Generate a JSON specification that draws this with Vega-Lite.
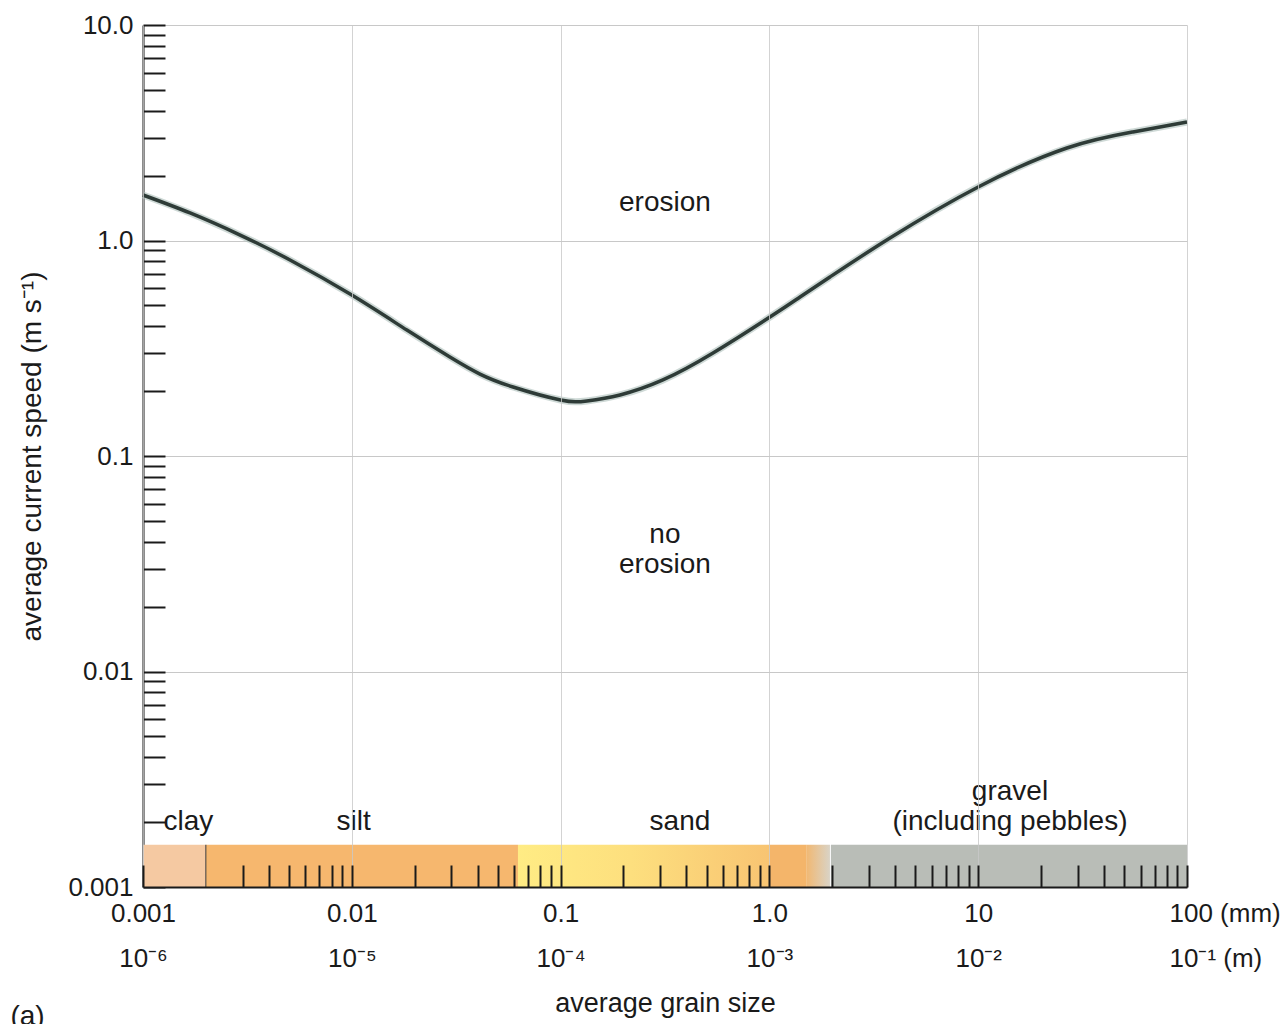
{
  "$schema": "https://vega.github.io/schema/vega-lite/v6.json",
  "width": 1044,
  "height": 862,
  "autosize": "none",
  "padding": {"left": 143, "top": 25, "right": 100, "bottom": 137},
  "background": "white",
  "config": {
    "view": {"stroke": null},
    "font": "Liberation Sans, Arial, sans-serif"
  },
  "datasets": {
    "curve": [
      {"x": 0.001, "y": 1.626},
      {"x": 0.00168, "y": 1.342},
      {"x": 0.00292, "y": 1.06},
      {"x": 0.00506, "y": 0.812},
      {"x": 0.01, "y": 0.558},
      {"x": 0.01836, "y": 0.384},
      {"x": 0.0295, "y": 0.288},
      {"x": 0.0411, "y": 0.24},
      {"x": 0.0592, "y": 0.209},
      {"x": 0.1, "y": 0.182},
      {"x": 0.1336, "y": 0.18},
      {"x": 0.1926, "y": 0.192},
      {"x": 0.309, "y": 0.2254},
      {"x": 0.537, "y": 0.3006},
      {"x": 1.04, "y": 0.451},
      {"x": 1.402, "y": 0.547},
      {"x": 1.95, "y": 0.677},
      {"x": 3.78, "y": 1.027},
      {"x": 10.0, "y": 1.772},
      {"x": 26.6, "y": 2.687},
      {"x": 55.1, "y": 3.19},
      {"x": 100, "y": 3.548}
    ],
    "bands": [
      {"class": "clay", "x": 0.001, "x2": 0.002, "y": 0.001, "y2": 0.00157},
      {"class": "silt", "x": 0.002, "x2": 0.0625, "y": 0.001, "y2": 0.00157},
      {"class": "coarse sand", "x": 1.0, "x2": 1.5, "y": 0.001, "y2": 0.00157},
      {"class": "gravel", "x": 1.97, "x2": 100, "y": 0.001, "y2": 0.00157}
    ],
    "sand": [{"class": "sand", "x": 0.0625, "x2": 1.0, "y": 0.001, "y2": 0.00157}],
    "transition": [{"class": "granules", "x": 1.5, "x2": 1.95, "y": 0.001, "y2": 0.00157}],
    "boundary": [{"x": 0.002, "y": 0.001, "y2": 0.00157}],
    "labels": [
      {"label": "erosion", "x": 0.316, "y": 1.493},
      {"label": "no", "x": 0.316, "y": 0.043},
      {"label": "erosion", "x": 0.316, "y": 0.0312},
      {"label": "clay", "x": 0.00165, "y": 0.002},
      {"label": "silt", "x": 0.0102, "y": 0.002},
      {"label": "sand", "x": 0.373, "y": 0.002},
      {"label": "gravel", "x": 14.2, "y": 0.00276},
      {"label": "(including pebbles)", "x": 14.2, "y": 0.002},
      {"label": "(a)", "x": 0.00028, "y": 0.00025}
    ]
  },
  "encoding": {
    "x": {
      "field": "x",
      "type": "quantitative",
      "scale": {"type": "log", "domain": [0.001, 100], "nice": false},
      "axis": {
        "zindex": 1,
        "values": [0.001, 0.003, 0.004, 0.005, 0.006, 0.007, 0.008, 0.009, 0.01, 0.02, 0.03, 0.04, 0.05, 0.06, 0.07, 0.08, 0.09, 0.1, 0.2, 0.3, 0.4, 0.5, 0.6, 0.7, 0.8, 0.9, 1, 2, 3, 4, 5, 6, 7, 8, 9, 10, 20, 30, 40, 50, 60, 70, 80, 90, 100],
        "labelExpr": "datum.value == 0.001 ? ['0.001','10⁻⁶'] : datum.value == 0.01 ? ['0.01','10⁻⁵'] : datum.value == 0.1 ? ['0.1','10⁻⁴'] : datum.value == 1 ? ['1.0','10⁻³'] : datum.value == 10 ? ['10','10⁻²'] : datum.value == 100 ? ['100 (mm)','10⁻¹ (m)'] : ''",
        "labelAlign": {"condition": {"test": "datum.value == 100", "value": "left"}, "value": "center"},
        "labelOffset": {"condition": {"test": "datum.value == 100", "value": -18}, "value": 0},
        "labelOverlap": false,
        "labelBound": false,
        "labelFlush": false,
        "labelFontSize": 26,
        "labelLineHeight": 45,
        "labelColor": "#1a1a1a",
        "labelPadding": 35,
        "tickSize": -22,
        "tickWidth": 2,
        "tickColor": "#1a1a1a",
        "domainColor": "#1a1a1a",
        "domainWidth": 2,
        "grid": true,
        "gridColor": "#c8c8c8",
        "gridWidth": 1,
        "gridOpacity": {"condition": {"test": "indexof([0.001,0.01,0.1,1,10,100], datum.value) >= 0", "value": 0.8}, "value": 0},
        "title": "average grain size",
        "titleFontSize": 27,
        "titleFontWeight": "normal",
        "titleColor": "#1a1a1a",
        "titlePadding": 19
      }
    },
    "y": {
      "field": "y",
      "type": "quantitative",
      "scale": {"type": "log", "domain": [0.001, 10], "nice": false},
      "axis": {
        "values": [0.001, 0.002, 0.003, 0.004, 0.005, 0.006, 0.007, 0.008, 0.009, 0.01, 0.02, 0.03, 0.04, 0.05, 0.06, 0.07, 0.08, 0.09, 0.1, 0.2, 0.3, 0.4, 0.5, 0.6, 0.7, 0.8, 0.9, 1, 2, 3, 4, 5, 6, 7, 8, 9, 10],
        "labelExpr": "datum.value == 10 ? '10.0' : datum.value == 1 ? '1.0' : datum.value == 0.1 ? '0.1' : datum.value == 0.01 ? '0.01' : datum.value == 0.001 ? '0.001' : ''",
        "labelOverlap": false,
        "labelBound": false,
        "labelFlush": false,
        "labelFontSize": 26,
        "labelColor": "#1a1a1a",
        "labelPadding": 32,
        "tickSize": -22,
        "tickWidth": 2,
        "tickColor": "#1a1a1a",
        "domainColor": "#1a1a1a",
        "domainWidth": 2,
        "grid": true,
        "gridColor": "#c8c8c8",
        "gridWidth": 1,
        "gridOpacity": {"condition": {"test": "indexof([0.001,0.01,0.1,1,10], datum.value) >= 0", "value": 1}, "value": 0},
        "title": "average current speed (m s⁻¹)",
        "titleFontSize": 28,
        "titleFontWeight": "normal",
        "titleColor": "#1a1a1a",
        "titlePadding": 21
      }
    }
  },
  "layer": [
    {
      "data": {"name": "bands"},
      "mark": {"type": "rect"},
      "encoding": {
        "x2": {"field": "x2"},
        "y2": {"field": "y2"},
        "color": {"field": "class", "type": "nominal", "legend": null,
          "scale": {"domain": ["clay", "silt", "coarse sand", "gravel"], "range": ["#F5C9A2", "#F6B76E", "#F4B56A", "#B9BDB7"]}}
      }
    },
    {
      "data": {"name": "sand"},
      "mark": {"type": "rect", "color": {"gradient": "linear", "x1": 0, "y1": 0, "x2": 1, "y2": 0, "stops": [{"offset": 0, "color": "#FFEC84"}, {"offset": 0.45, "color": "#FDDF7E"}, {"offset": 1, "color": "#F8C472"}]}},
      "encoding": {
        "x2": {"field": "x2"},
        "y2": {"field": "y2"}
      }
    },
    {
      "data": {"name": "transition"},
      "mark": {"type": "rect", "color": {"gradient": "linear", "x1": 0, "y1": 0, "x2": 1, "y2": 0, "stops": [{"offset": 0, "color": "#F1B872"}, {"offset": 1, "color": "#D9D3C6"}]}},
      "encoding": {
        "x2": {"field": "x2"},
        "y2": {"field": "y2"}
      }
    },
    {
      "data": {"name": "boundary"},
      "mark": {"type": "rule", "color": "#3a3a3a", "strokeWidth": 1},
      "encoding": {
        "y2": {"field": "y2"}
      }
    },
    {
      "data": {"name": "curve"},
      "mark": {"type": "line", "interpolate": "natural", "color": "#aebfba", "strokeWidth": 7, "opacity": 0.6},
      "encoding": {}
    },
    {
      "data": {"name": "curve"},
      "mark": {"type": "line", "interpolate": "natural", "color": "#2e3b37", "strokeWidth": 3.5},
      "encoding": {}
    },
    {
      "data": {"name": "labels"},
      "mark": {"type": "text", "fontSize": 28, "color": "#1a1a1a", "align": "center", "baseline": "middle"},
      "encoding": {
        "text": {"field": "label"}
      }
    }
  ]
}
